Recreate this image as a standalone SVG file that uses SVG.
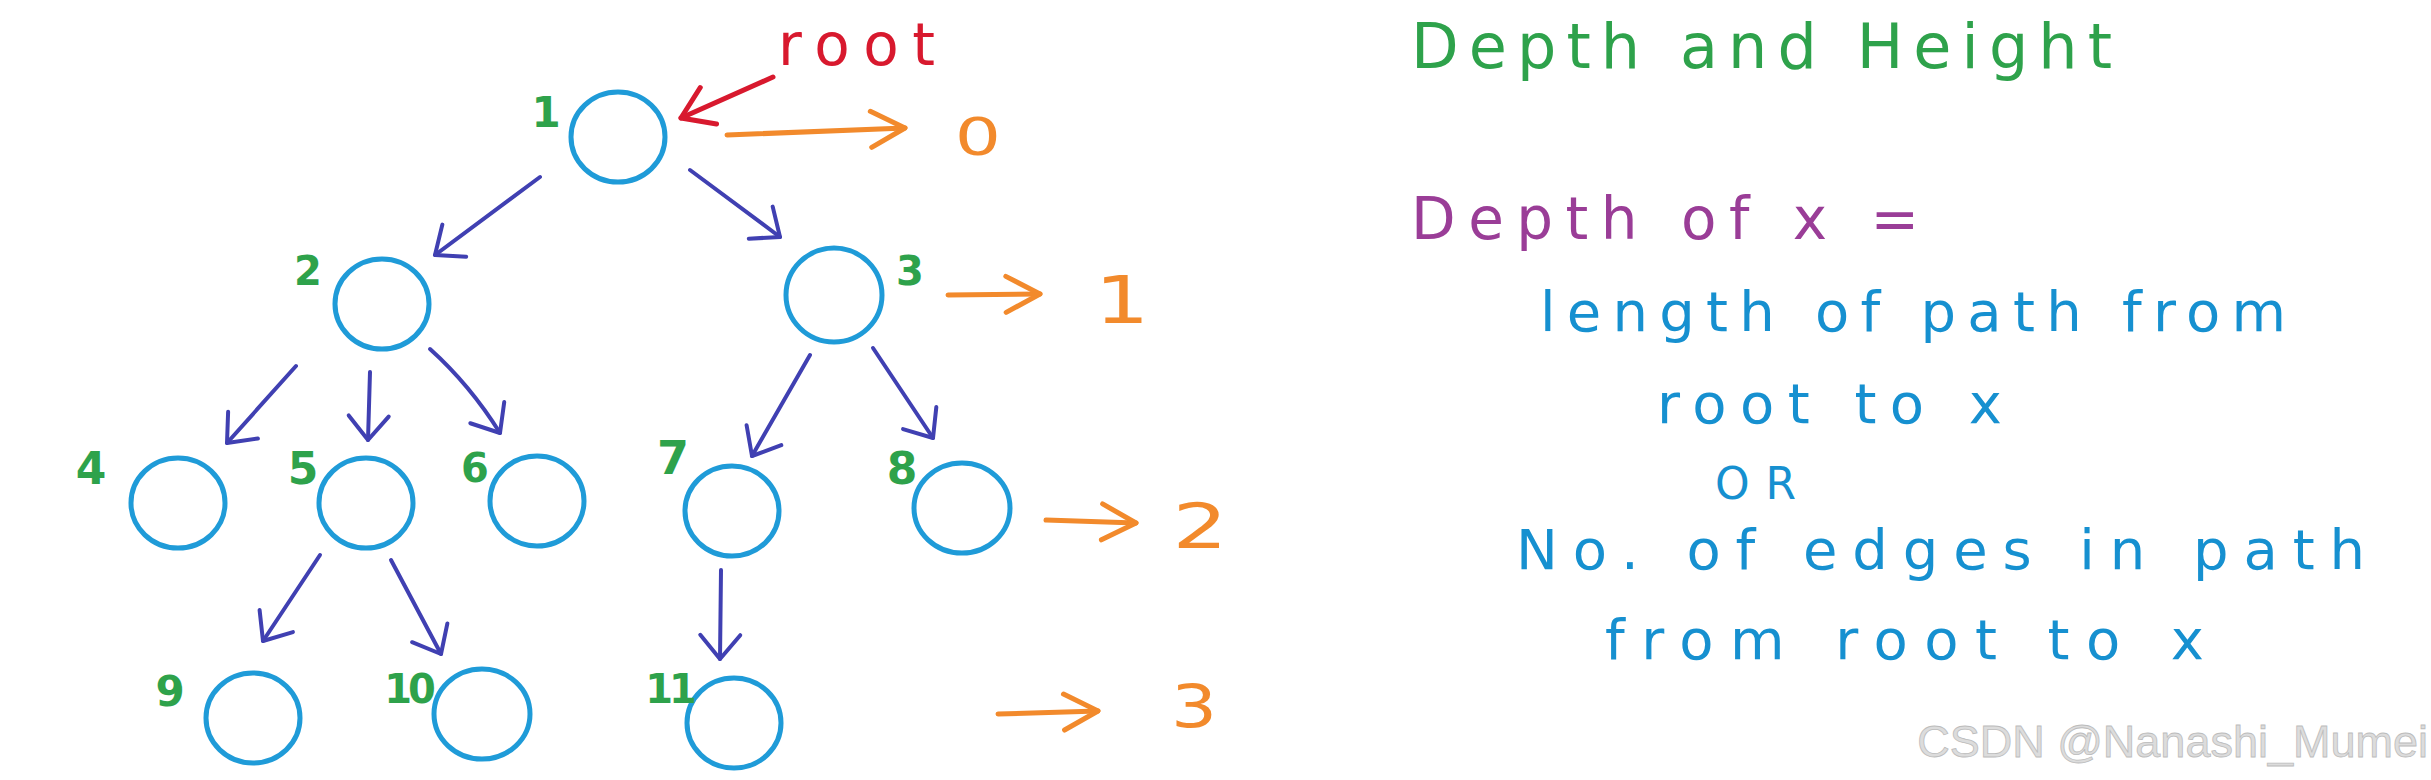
<svg xmlns="http://www.w3.org/2000/svg" width="2431" height="780" viewBox="0 0 2431 780">
<style>
.node{fill:none;stroke:#1f9bd8;stroke-width:5}
.num{font-family:"DejaVu Sans",sans-serif;font-weight:bold;fill:#2ea24b;text-anchor:middle}
.edge{fill:none;stroke:#4040b2;stroke-width:4;stroke-linecap:round;marker-end:url(#mp)}
.lvl{fill:none;stroke:#f28a2c;stroke-width:5;stroke-linecap:round;marker-end:url(#mo)}
.lvlt{font-family:"DejaVu Sans",sans-serif;fill:#f28a2c;text-anchor:middle}
.hw{font-family:"DejaVu Sans",sans-serif}
.blue{fill:#1690d0;font-size:56px}
</style>
<defs>
<marker id="mp" markerUnits="userSpaceOnUse" markerWidth="60" markerHeight="60" viewBox="-40 -30 60 60" refX="0" refY="0" orient="auto" overflow="visible">
<path d="M-24,-20 L0,0 L-24,20" fill="none" stroke="#4040b2" stroke-width="4" stroke-linecap="round" stroke-linejoin="round"/>
</marker>
<marker id="mo" markerUnits="userSpaceOnUse" markerWidth="60" markerHeight="60" viewBox="-40 -30 60 60" refX="0" refY="0" orient="auto" overflow="visible">
<path d="M-34,-18 L0,0 L-34,18" fill="none" stroke="#f28a2c" stroke-width="5" stroke-linecap="round" stroke-linejoin="round"/>
</marker>
<marker id="mr" markerUnits="userSpaceOnUse" markerWidth="60" markerHeight="60" viewBox="-40 -30 60 60" refX="0" refY="0" orient="auto" overflow="visible">
<path d="M-30,-20 L0,0 L-30,20" fill="none" stroke="#d8192e" stroke-width="5" stroke-linecap="round" stroke-linejoin="round"/>
</marker>
</defs>
<rect width="2431" height="780" fill="#ffffff"/>

<g id="connectors">
<line class="edge" x1="540" y1="177" x2="435" y2="255"/>
<line class="edge" x1="690" y1="170" x2="780" y2="237"/>
<line class="edge" x1="296" y1="366" x2="227" y2="443"/>
<line class="edge" x1="370" y1="372" x2="368" y2="440"/>
<path class="edge" d="M430,349 Q470,385 500,433"/>
<line class="edge" x1="810" y1="355" x2="752" y2="456"/>
<line class="edge" x1="873" y1="348" x2="933" y2="438"/>
<line class="edge" x1="320" y1="555" x2="263" y2="641"/>
<line class="edge" x1="391" y1="560" x2="441" y2="654"/>
<line class="edge" x1="721" y1="570" x2="720" y2="659"/>
</g>

<g id="node-1"><ellipse class="node" cx="618" cy="137" rx="47" ry="45"/><text class="num" x="546" y="127" font-size="42">1</text></g>
<g id="node-2"><ellipse class="node" cx="382" cy="304" rx="47" ry="45"/><text class="num" x="308" y="285" font-size="40">2</text></g>
<g id="node-3"><ellipse class="node" cx="834" cy="295" rx="48" ry="47"/><text class="num" x="910" y="285" font-size="40">3</text></g>
<g id="node-4"><ellipse class="node" cx="178" cy="503" rx="47" ry="45"/><text class="num" x="91" y="484" font-size="44">4</text></g>
<g id="node-5"><ellipse class="node" cx="366" cy="503" rx="47" ry="45"/><text class="num" x="303" y="484" font-size="44">5</text></g>
<g id="node-6"><ellipse class="node" cx="537" cy="501" rx="47" ry="45"/><text class="num" x="475" y="482" font-size="40">6</text></g>
<g id="node-7"><ellipse class="node" cx="732" cy="511" rx="47" ry="45"/><text class="num" x="673" y="474" font-size="46">7</text></g>
<g id="node-8"><ellipse class="node" cx="962" cy="508" rx="48" ry="45"/><text class="num" x="902" y="484" font-size="44">8</text></g>
<g id="node-9"><ellipse class="node" cx="253" cy="718" rx="47" ry="45"/><text class="num" x="170" y="706" font-size="42">9</text></g>
<g id="node-10"><ellipse class="node" cx="482" cy="714" rx="48" ry="45"/><text class="num" x="408" y="703" font-size="40" letter-spacing="-4">10</text></g>
<g id="node-11"><ellipse class="node" cx="734" cy="723" rx="47" ry="45"/><text class="num" x="669" y="703" font-size="40" letter-spacing="-4">11</text></g>

<g id="root-label">
<text class="hw" x="778" y="65" font-size="58" fill="#d8192e" textLength="157" lengthAdjust="spacing">root</text>
<line x1="773" y1="77" x2="681" y2="118" fill="none" stroke="#d8192e" stroke-width="5" stroke-linecap="round" marker-end="url(#mr)"/>
</g>

<g id="levels">
<line class="lvl" x1="727" y1="135" x2="905" y2="128"/>
<text class="lvlt" x="978" y="155" font-size="52" transform="translate(978 0) scale(1.4 1) translate(-978 0)">0</text>
<line class="lvl" x1="948" y1="295" x2="1040" y2="294"/>
<text class="lvlt" x="1122" y="323" font-size="66" transform="translate(1122 0) scale(1.3 1) translate(-1122 0)">1</text>
<line class="lvl" x1="1046" y1="520" x2="1136" y2="523"/>
<text class="lvlt" x="1200" y="548" font-size="62" transform="translate(1200 0) scale(1.4 1) translate(-1200 0)">2</text>
<line class="lvl" x1="998" y1="714" x2="1098" y2="711"/>
<text class="lvlt" x="1194" y="727" font-size="58" transform="translate(1194 0) scale(1.25 1) translate(-1194 0)">3</text>
</g>

<g id="definition">
<text class="hw" x="1411" y="68" font-size="62" fill="#2ea24b" textLength="701" lengthAdjust="spacing">Depth and Height</text>
<text class="hw" x="1411" y="239" font-size="58" fill="#9a3d97" textLength="508" lengthAdjust="spacing">Depth of x =</text>
<text class="hw blue" x="1540" y="331" textLength="746" lengthAdjust="spacing">length of path from</text>
<text class="hw blue" x="1657" y="423" textLength="345" lengthAdjust="spacing">root to x</text>
<text class="hw" x="1715" y="499" font-size="44" fill="#1690d0" textLength="81" lengthAdjust="spacing">OR</text>
<text class="hw blue" x="1516" y="569" textLength="849" lengthAdjust="spacing">No. of edges in path</text>
<text class="hw blue" x="1605" y="659" textLength="599" lengthAdjust="spacing">from root to x</text>
</g>

<text x="2428" y="757" font-family="Liberation Sans, Arial, sans-serif" font-size="45" fill="#dcdcdc" stroke="#bcbcbc" stroke-width="0.8" text-anchor="end">CSDN @Nanashi_Mumei</text>
</svg>
